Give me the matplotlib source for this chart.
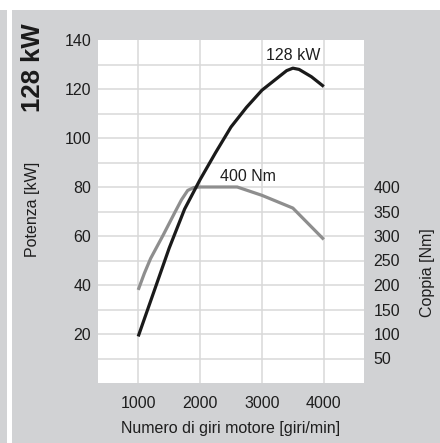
import matplotlib
matplotlib.use("Agg")
import matplotlib.pyplot as plt
from matplotlib.patches import Rectangle

plt.rcParams['font.family'] = ['Liberation Sans', 'DejaVu Sans']

# Data
rpm_power = [1000, 1250, 1500, 1750, 2000, 2250, 2500, 2750, 3000, 3250, 3400, 3500, 3600, 3800, 4000]
power_kw = [19, 37, 55, 71, 83, 94, 104.5, 112.5, 119.5, 124.5, 127.5, 128.5, 128, 125, 121]
rpm_torque = [1000, 1100, 1200, 1400, 1600, 1700, 1800, 1900, 2000, 2600, 3000, 3500, 4000]
torque_nm = [190, 224, 254, 301, 350, 374, 393, 399, 400, 400, 383, 357, 293]
x_ticks = [1000, 2000, 3000, 4000]
kw_ticks = [20, 40, 60, 80, 100, 120, 140]
nm_ticks = [50, 100, 150, 200, 250, 300, 350, 400]

W, H = 440, 443
fig = plt.figure(figsize=(W / 100, H / 100), dpi=100)
fig.patch.set_facecolor('white')

panel = '#d1d2d4'
fig.add_artist(Rectangle((0, 0), 7 / W, (H - 10) / H, transform=fig.transFigure,
                         facecolor=panel, edgecolor='none', zorder=0))
fig.add_artist(Rectangle((12 / W, 0), (W - 12) / W, (H - 10) / H, transform=fig.transFigure,
                         facecolor=panel, edgecolor='none', zorder=0))

left, right, top, bottom = 98, 364, 40, 383
rect = [left / W, 1 - bottom / H, (right - left) / W, (bottom - top) / H]
ax2 = fig.add_axes(rect)  # torque axis (below), holds grid
ax = fig.add_axes(rect)   # power axis (on top)
ax.set_zorder(ax2.get_zorder() + 1)
ax.patch.set_visible(False)
ax2.set_facecolor('white')

xmin, xmax = 350, 4650
for a in (ax, ax2):
    a.set_xlim(xmin, xmax)
    for s in a.spines.values():
        s.set_visible(False)

ax.set_ylim(0, 140)
ax2.set_ylim(0, 700)

# grid on ax2
grid_c = '#d9d9d9'
for xv in x_ticks:
    ax2.axvline(xv, color=grid_c, lw=1.1, zorder=1)
for yv in range(50, 700, 50):
    ax2.axhline(yv, color=grid_c, lw=1.1, zorder=1)

ax2.plot(rpm_torque, torque_nm, color='#8e8e8e', lw=2.3, zorder=3, solid_capstyle='butt',
         solid_joinstyle='round')
ax.plot(rpm_power, power_kw, color='#1a1a1a', lw=2.3, zorder=4, solid_capstyle='butt',
        solid_joinstyle='round')

fs = 11.5
tc = '#1e1e1e'
ax.set_xticks(x_ticks)
ax.set_xticklabels([str(v) for v in x_ticks], fontsize=fs, color=tc)
ax.set_yticks(kw_ticks)
ax.set_yticklabels([str(v) for v in kw_ticks], fontsize=fs, color=tc)
ax.tick_params(axis='x', length=0, pad=9)
ax.tick_params(axis='y', length=0, pad=5)

ax2.yaxis.tick_right()
ax2.set_yticks(nm_ticks)
ax2.set_yticklabels([str(v) for v in nm_ticks], fontsize=fs, color=tc)
ax2.tick_params(axis='y', length=0, pad=7)
ax2.set_xticks([])

ax.text(3500, 133.5, '128 kW', fontsize=fs, ha='center', va='center', color=tc)
ax2.text(2770, 422, '400 Nm', fontsize=fs, ha='center', va='center', color=tc)

fig.text(((left + right) / 2) / W, 1 - 428 / H, 'Numero di giri motore [giri/min]',
         fontsize=fs, ha='center', va='center', color=tc)
fig.text(33 / W, 1 - 209 / H, 'Potenza [kW]', rotation=90, fontsize=fs,
         ha='center', va='center', color=tc)
fig.text(427 / W, 1 - 273 / H, 'Coppia [Nm]', rotation=90, fontsize=fs,
         ha='center', va='center', color=tc)
fig.text(32.5 / W, 1 - 68 / H, '128 kW', rotation=90, fontsize=18.5, fontweight='bold',
         ha='center', va='center', color='#1a1a1a')

fig.savefig('out.png', dpi=100, facecolor='white')
